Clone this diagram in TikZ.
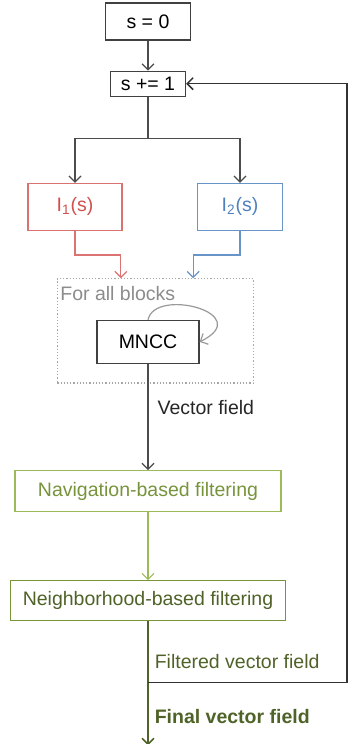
\documentclass[tikz,border=0pt]{standalone}
\usepackage{fontspec}
\setmainfont{Liberation Sans}
\usepackage{tikz}
\usetikzlibrary{positioning,fit,arrows.meta}
\definecolor{StepRed}{HTML}{D0504D}
\definecolor{StepBlue}{HTML}{4F81BD}
\definecolor{NavGreen}{HTML}{9BBB59}
\definecolor{NavText}{HTML}{77933C}
\definecolor{DarkGreen}{HTML}{4F6228}
\definecolor{LoopGray}{HTML}{8C8C8C}

\begin{document}
\begin{tikzpicture}[x=0.5pt, y=0.5pt, >={Straight Barb[length=3pt,width=6pt]},
                      every node/.style={inner sep=0pt, align=center,
                                         font=\fontsize{9.75}{11.5}\selectfont},
                      box/.style={draw=black!75, line width=0.6pt},
                      every path/.style={line width=0.6pt}]
  \useasboundingbox (0,0) rectangle (349,-744);
  \node[box, minimum width=42.5pt, minimum height=18.5pt] at (148,-21.5) (s0) {s = 0};
  \node[box, minimum width=37.5pt, minimum height=12.5pt, below=15pt of s0] (sinc) {s += 1};
  \node[box, draw=StepRed!80, text=StepRed, minimum width=47pt, minimum height=23.5pt,
        below=43pt of sinc, xshift=-36.5pt] (I1) {I\textsubscript{1}(s)};
  \node[box, draw=StepBlue!85, text=StepBlue, minimum width=42.5pt, minimum height=23.5pt,
        below=43pt of sinc, xshift=46pt] (I2) {I\textsubscript{2}(s)};
  \node[box, minimum width=51pt, minimum height=21.5pt, below=111.5pt of sinc] (mncc) {MNCC};
  \node[box, draw=NavGreen, text=NavText, minimum width=133pt, minimum height=20.5pt,
        below=53pt of mncc] (nav) {Navigation-based filtering};
  \node[box, draw=NavText, text=DarkGreen, minimum width=137.5pt, minimum height=20pt,
        below=34pt of nav] (neigh) {Neighborhood-based filtering};

  % block loop area
  \coordinate (bnw) at ([shift={(-19.5pt,20.5pt)}]mncc.north west);
  \coordinate (bse) at ([shift={(27pt,-9.5pt)}]mncc.south east);
  \node[draw=black!35, densely dotted, line width=0.6pt, fit=(bnw)(bse)] (blocks) {};
  \node[anchor=west, text=LoopGray] at ([shift={(1.5pt,-7.5pt)}]blocks.north west) (forall) {For all blocks};

  \coordinate (split) at ([yshift=-21pt]sinc.south);
  \coordinate (fb) at ([yshift=-30.5pt]neigh.south);
  \coordinate (out) at ([yshift=-62pt]neigh.south);

  \draw[->, black!70] (s0) -- (sinc);
  \draw[black!70] (sinc) -- (split);
  \draw[->, black!70] (split) -| (I1);
  \draw[->, black!70] (split) -| (I2);
  \draw[->, StepRed!80] (I1.south) -- ++(0,-12pt) -| ([xshift=32pt]blocks.north west);
  \draw[->, StepBlue!85] (I2.south) -- ++(0,-12pt) -| ([xshift=-30.5pt]blocks.north east);
  \draw[->, black!40] (mncc.north) .. controls +(3.5pt,16.5pt) and +(28.5pt,14pt) .. (mncc.east);
  \draw[->, black!70] (mncc) -- (nav)
    node[pos=0.41, anchor=west, xshift=4.5pt, text=black!85] (vf) {Vector field};
  \draw[->, NavGreen] (nav) -- (neigh);
  \draw[->, DarkGreen, line width=0.8pt] (neigh) -- (out)
    node[pos=0.325, anchor=west, xshift=3pt, text=DarkGreen] (filt) {Filtered vector field}
    node[pos=0.765, anchor=west, xshift=3pt, text=DarkGreen, font=\fontsize{9.75}{11.5}\selectfont\bfseries] (final) {Final vector field};
  \draw[->, black!80, line width=0.75pt] (fb) -- ++(99.4pt,0) |- (sinc.east);
\end{tikzpicture}
\end{document}
